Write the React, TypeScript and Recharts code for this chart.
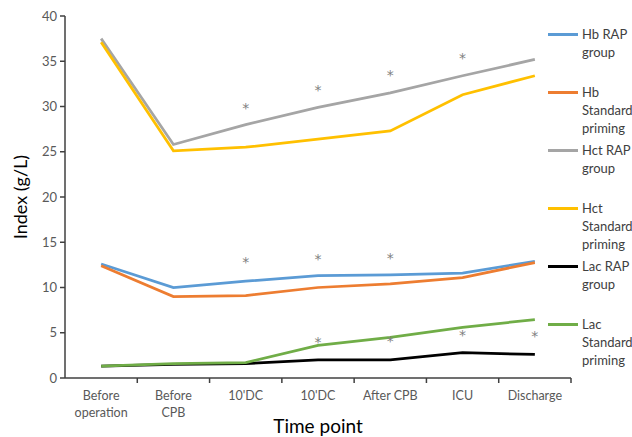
import React from "react";
import { ComposedChart, Line, XAxis, YAxis, Legend } from "recharts";

const categories = ["Before operation", "Before CPB", "10'DC", "10'DC", "After CPB", "ICU", "Discharge"];
const categoryLines = [["Before", "operation"], ["Before", "CPB"], ["10'DC"], ["10'DC"], ["After CPB"], ["ICU"], ["Discharge"]];

const hbRap = [12.6, 10.0, 10.7, 11.3, 11.4, 11.6, 12.9];
const hbStd = [12.4, 9.0, 9.1, 10.0, 10.4, 11.1, 12.75];
const hctRap = [37.5, 25.8, 28.0, 29.9, 31.5, 33.4, 35.2];
const hctStd = [37.1, 25.1, 25.5, 26.4, 27.3, 31.3, 33.4];
const lacRap = [1.3, 1.5, 1.6, 2.0, 2.0, 2.8, 2.6];
const lacStd = [1.3, 1.6, 1.7, 3.6, 4.5, 5.6, 6.45];

const starHct = [null, null, 30.2, 32.1, 33.8, 35.7, null];
const starHb = [null, null, 13.1, 13.5, 13.6, null, null];
const starLac = [null, null, null, 4.3, 4.4, 5.1, 5.0];

const yTicks = [0, 5, 10, 15, 20, 25, 30, 35, 40];

const series = [
  { key: "hbRap", name: "Hb RAP group", lines: ["Hb RAP", "group"], color: "#5B9BD5", values: hbRap },
  { key: "hbStd", name: "Hb Standard priming", lines: ["Hb", "Standard", "priming"], color: "#ED7D31", values: hbStd },
  { key: "hctRap", name: "Hct RAP group", lines: ["Hct RAP", "group"], color: "#A5A5A5", values: hctRap },
  { key: "hctStd", name: "Hct Standard priming", lines: ["Hct", "Standard", "priming"], color: "#FFC000", values: hctStd },
  { key: "lacRap", name: "Lac RAP group", lines: ["Lac RAP", "group"], color: "#000000", values: lacRap },
  { key: "lacStd", name: "Lac Standard priming", lines: ["Lac", "Standard", "priming"], color: "#70AD47", values: lacStd },
];

const data = categories.map((c, i) => {
  const row: any = { idx: i, cat: c, starHct: starHct[i], starHb: starHb[i], starLac: starLac[i] };
  series.forEach((s) => (row[s.key] = s.values[i]));
  return row;
});

const FONT = "Lato, 'Open Sans', sans-serif";
const W = 632;
const H = 437;
const MARGIN = { top: 16, right: 61, left: 0, bottom: 0 };
const Y_W = 65;
const X_H = 59;
const BAND = (W - MARGIN.left - MARGIN.right - Y_W) / categories.length;

const XTick = (props: any) => {
  const { x, y, payload } = props;
  const lines = categoryLines[payload.value] || [String(payload.value)];
  return (
    <g>
      <line x1={x + BAND / 2} x2={x + BAND / 2} y1={y} y2={y + 5} stroke="#404040" strokeWidth={1.5} />
      <text x={x} y={y + 22} textAnchor="middle" fill="#595959" fontSize={12.5} fontFamily={FONT}>
        {lines.map((l: string, i: number) => (
          <tspan key={i} x={x} dy={i === 0 ? 0 : 17}>
            {l}
          </tspan>
        ))}
      </text>
    </g>
  );
};

const Star = (props: any) => {
  const { cx, cy, value } = props;
  if (value == null || cy == null || isNaN(cy)) return <g />;
  return (
    <text x={cx} y={cy + 8} textAnchor="middle" fill="#7F7F7F" fontSize={14} fontFamily="'DejaVu Sans', sans-serif">
      *
    </text>
  );
};

const LegendContent = (props: any) => {
  const payload = props.payload || [];
  return (
    <div style={{ fontFamily: FONT, fontSize: 13, color: "#404040" }}>
      {payload.map((p: any) => {
        const s = series.find((q) => q.name === p.value);
        if (!s) return null;
        return (
          <div key={s.key} style={{ position: "relative", height: 58 }}>
            <div style={{ position: "absolute", left: 0, top: 7.5, width: 30, height: 3, background: p.color }} />
            <div style={{ position: "absolute", left: 34, top: 0, lineHeight: "18px", whiteSpace: "nowrap" }}>
              {s.lines.map((l, i) => (
                <div key={i}>{l}</div>
              ))}
            </div>
          </div>
        );
      })}
    </div>
  );
};

export default function App() {
  return (
    <div style={{ position: "absolute", left: 0, top: 0, width: W, height: H, background: "#fff", overflow: "hidden" }}>
      <ComposedChart width={W} height={H} data={data} margin={MARGIN}>
        <XAxis
          dataKey="idx"
          type="category"
          scale="band"
          height={X_H}
          tickLine={false}
          tickSize={0}
          tickMargin={0}
          axisLine={{ stroke: "#404040", strokeWidth: 1.5 }}
          tick={<XTick />}
          interval={0}
          label={{ value: "Time point", position: "insideBottom", offset: 4.5, fill: "#000", fontSize: 19, fontFamily: FONT }}
        />
        <YAxis
          domain={[0, 40]}
          ticks={yTicks}
          width={Y_W}
          tickSize={5}
          tickMargin={3}
          axisLine={{ stroke: "#404040", strokeWidth: 1.5 }}
          tickLine={{ stroke: "#404040", strokeWidth: 1.5 }}
          tick={{ fill: "#595959", fontSize: 13, fontFamily: FONT }}
          label={{
            value: "Index (g/L)",
            angle: -90,
            position: "insideLeft",
            offset: 21,
            fill: "#000",
            fontSize: 18,
            fontFamily: FONT,
            style: { textAnchor: "middle" },
          }}
        />
        <Legend
          layout="vertical"
          align="center"
          verticalAlign="middle"
          wrapperStyle={{ left: 548, top: 25, width: 90 }}
          content={<LegendContent />}
        />
        {series.map((s) => (
          <Line
            key={s.key}
            dataKey={s.key}
            name={s.name}
            stroke={s.color}
            strokeWidth={2.75}
            dot={false}
            activeDot={false}
            isAnimationActive={false}
          />
        ))}
        {["starHct", "starHb", "starLac"].map((k) => (
          <Line
            key={k}
            dataKey={k}
            stroke="none"
            legendType="none"
            dot={<Star />}
            activeDot={false}
            connectNulls={false}
            isAnimationActive={false}
          />
        ))}
      </ComposedChart>
    </div>
  );
}
